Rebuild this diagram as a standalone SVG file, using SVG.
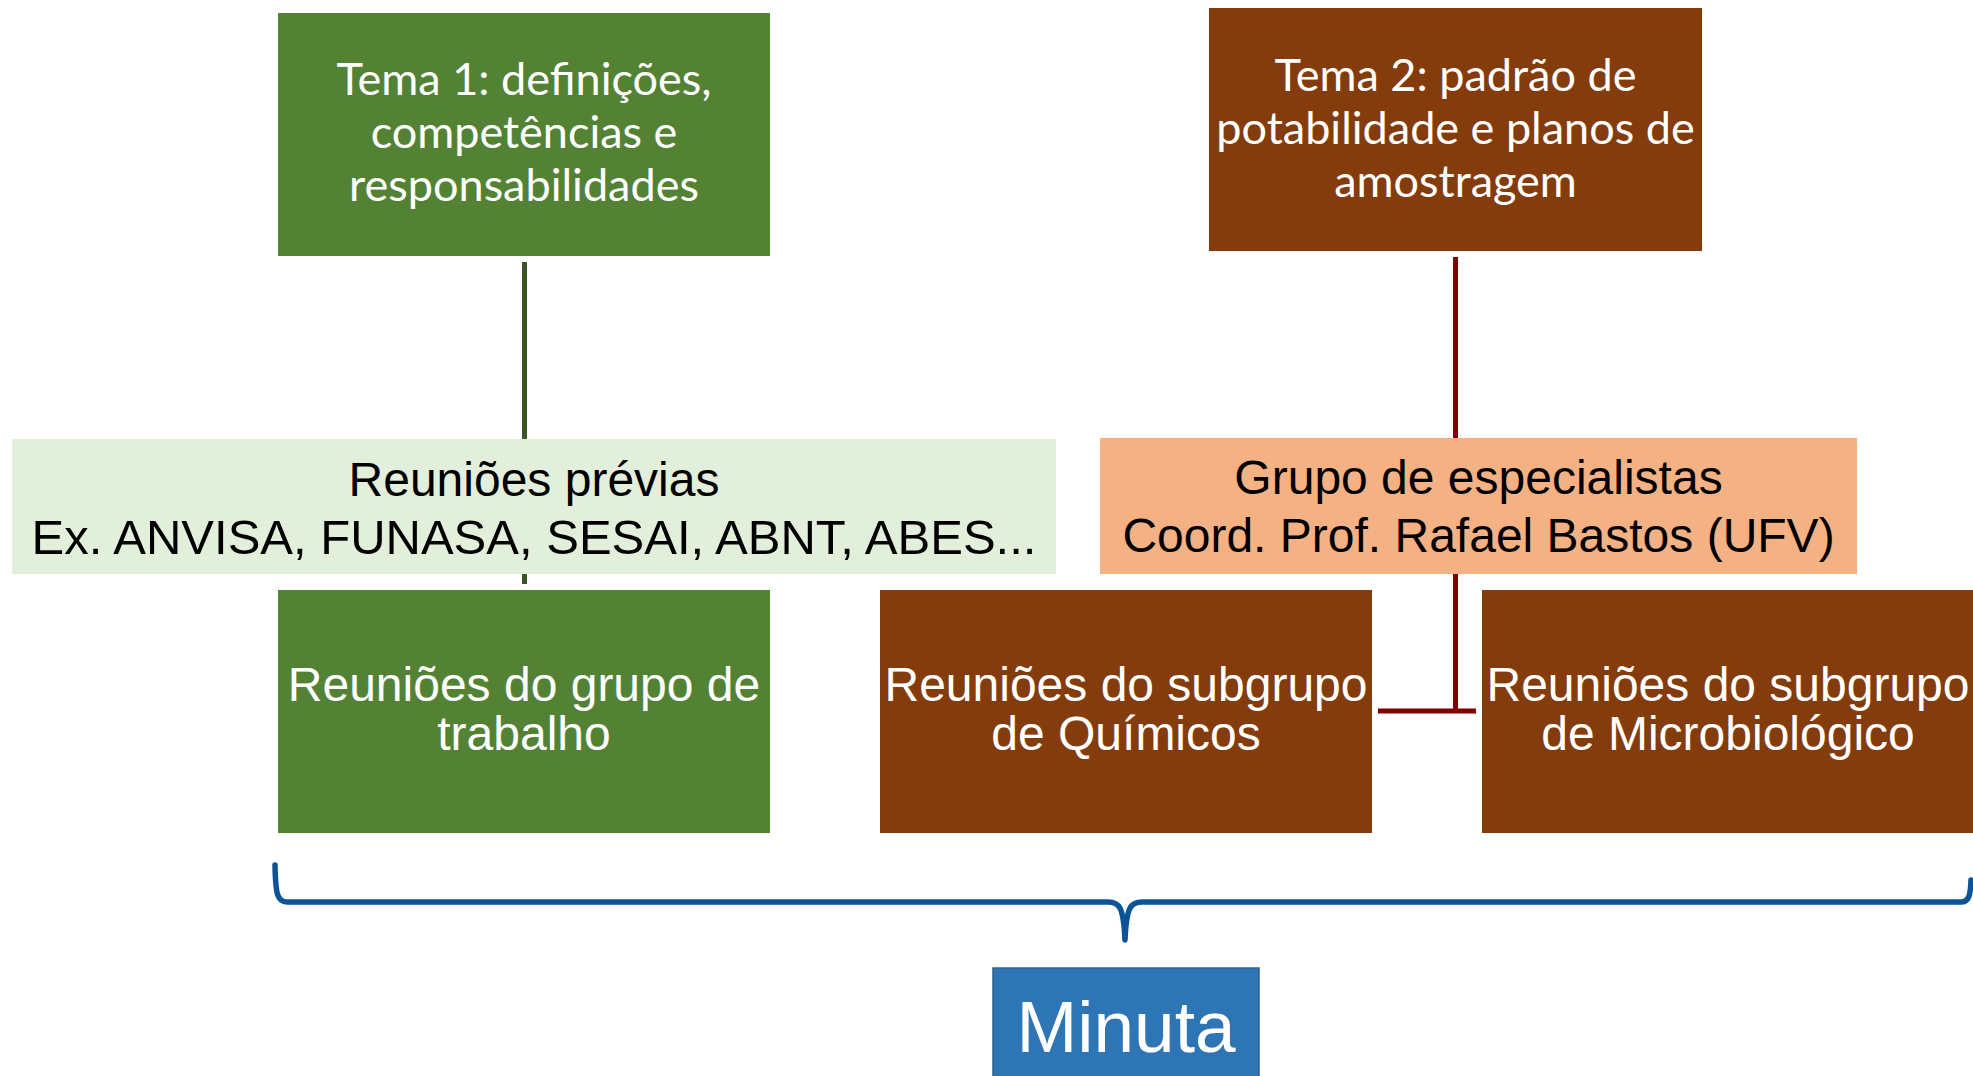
<svg xmlns="http://www.w3.org/2000/svg" width="1973" height="1076" viewBox="0 0 1973 1076">
<style>
  .tema { font-family: Lato, "Open Sans", sans-serif; font-size: 45px; fill: #ffffff; text-anchor: middle; }
  .arial { font-family: "Liberation Sans", Arial, sans-serif; font-size: 48px; text-anchor: middle; }
  .w { fill: #ffffff; }
  .k { fill: #000000; }
  .green { fill: #548235; }
  .brown { fill: #843C0C; }
</style>
<rect width="1973" height="1076" fill="#ffffff"/>
<g id="connectors" fill="none">
  <line x1="524.5" y1="262" x2="524.5" y2="584" stroke="#375623" stroke-width="5"/>
  <path d="M1455.5 257 V711 M1378 711 H1476" stroke="#800000" stroke-width="5"/>
  <path d="M275 865 C275.5 893, 277 902, 287 902 L1108 902 C1119 902, 1123.5 906, 1125 940 C1126.5 906, 1131 902, 1142 902 L1961 902 C1969 902, 1970.5 895, 1971 880" stroke="#0D5497" stroke-width="5.5" stroke-linecap="round" stroke-linejoin="round"/>
</g>
<g id="tema1">
  <rect class="green" x="278" y="13" width="492" height="243"/>
  <text class="tema"><tspan x="524" y="95">Tema 1: definições,</tspan><tspan x="524" y="148">competências e</tspan><tspan x="524" y="201">responsabilidades</tspan></text>
</g>
<g id="tema2">
  <rect class="brown" x="1209" y="8" width="493" height="243"/>
  <text class="tema"><tspan x="1455.5" y="91">Tema 2: padrão de</tspan><tspan x="1455.5" y="144">potabilidade e planos de</tspan><tspan x="1455.5" y="197">amostragem</tspan></text>
</g>
<g id="reunioes-previas">
  <rect x="12" y="439" width="1044" height="135" fill="#E2EFDA"/>
  <text class="arial k"><tspan x="534" y="496">Reuniões prévias</tspan><tspan x="534" y="554" font-size="49">Ex. ANVISA, FUNASA, SESAI, ABNT, ABES...</tspan></text>
</g>
<g id="grupo-especialistas">
  <rect x="1100" y="438" width="757" height="136" fill="#F4B183"/>
  <text class="arial k"><tspan x="1478.5" y="494">Grupo de especialistas</tspan><tspan x="1478.5" y="552">Coord. Prof. Rafael Bastos (UFV)</tspan></text>
</g>
<g id="grupo-trabalho">
  <rect class="green" x="278" y="590" width="492" height="243"/>
  <text class="arial w"><tspan x="524" y="701">Reuniões do grupo de</tspan><tspan x="524" y="750">trabalho</tspan></text>
</g>
<g id="subgrupo-quimicos">
  <rect class="brown" x="880" y="590" width="492" height="243"/>
  <text class="arial w"><tspan x="1126" y="701">Reuniões do subgrupo</tspan><tspan x="1126" y="750">de Químicos</tspan></text>
</g>
<g id="subgrupo-microbiologico">
  <rect class="brown" x="1482" y="590" width="492" height="243"/>
  <text class="arial w"><tspan x="1728" y="701">Reuniões do subgrupo</tspan><tspan x="1728" y="750">de Microbiológico</tspan></text>
</g>
<g id="minuta">
  <rect x="993" y="968" width="266" height="112" fill="#2E75B6" stroke="#2F5F93" stroke-width="1.5"/>
  <text x="1126" y="1052" font-family="'Liberation Sans', Arial, sans-serif" font-size="73" fill="#ffffff" text-anchor="middle">Minuta</text>
</g>
</svg>
